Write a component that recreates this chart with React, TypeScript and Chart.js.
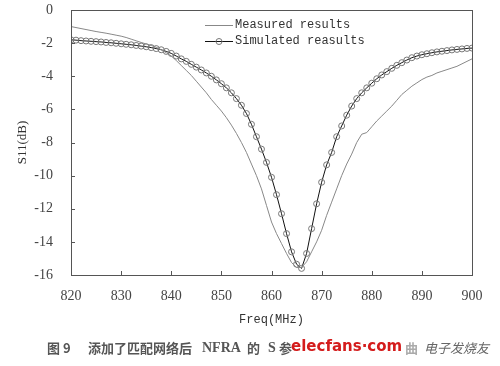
import React, { useEffect, useRef } from "react";
import { Chart, registerables } from "chart.js";

Chart.register(...registerables);

const freqs = [
  820, 821, 822, 823, 824, 825, 826, 827, 828, 829,
  830, 831, 832, 833, 834, 835, 836, 837, 838, 839,
  840, 841, 842, 843, 844, 845, 846, 847, 848, 849,
  850, 851, 852, 853, 854, 855, 856, 857, 858, 859,
  860, 861, 862, 863, 864, 865, 866, 867, 868, 869,
  870, 871, 872, 873, 874, 875, 876, 877, 878, 879,
  880, 881, 882, 883, 884, 885, 886, 887, 888, 889,
  890, 891, 892, 893, 894, 895, 896, 897, 898, 899, 900,
];

const measured = [
  -1.0, -1.06, -1.12, -1.18, -1.24, -1.3, -1.35, -1.4, -1.46, -1.52,
  -1.58, -1.66, -1.76, -1.86, -1.96, -2.05, -2.14, -2.25, -2.4, -2.58,
  -2.78, -3.05, -3.35, -3.65, -3.95, -4.3, -4.65, -5.0, -5.4, -5.75,
  -6.1, -6.5, -6.95, -7.45, -8.0, -8.6, -9.3, -10.0, -10.8, -11.8,
  -12.8, -13.5, -14.1, -14.7, -15.25, -15.55, -15.55, -15.2, -14.6, -14.0,
  -13.3, -12.4, -11.6, -10.8, -10.0, -9.3, -8.7, -8.0, -7.5, -7.4,
  -7.05, -6.7, -6.4, -6.1, -5.8, -5.45, -5.1, -4.85, -4.6, -4.4,
  -4.2, -4.05, -3.95, -3.8, -3.7, -3.6, -3.5, -3.4, -3.25, -3.1, -2.95,
];

const simulated = [
  -1.8, -1.82, -1.85, -1.87, -1.89, -1.91, -1.93, -1.96, -1.98, -2.01,
  -2.04, -2.07, -2.1, -2.14, -2.18, -2.22, -2.27, -2.33, -2.4, -2.5,
  -2.62, -2.78, -2.95, -3.1, -3.28, -3.45, -3.62, -3.8, -4.0, -4.22,
  -4.45, -4.7, -5.0, -5.35, -5.75, -6.25, -6.9, -7.65, -8.4, -9.2,
  -10.1, -11.15, -12.3, -13.5, -14.6, -15.35, -15.6, -14.7, -13.2, -11.7,
  -10.4, -9.35, -8.6, -7.65, -7.0, -6.35, -5.8, -5.35, -5.0, -4.7,
  -4.42, -4.15, -3.92, -3.72, -3.52, -3.34, -3.18, -3.02, -2.88, -2.78,
  -2.7, -2.64, -2.58, -2.53, -2.49, -2.45, -2.41, -2.38, -2.35, -2.32, -2.3,
];

const seriesNames = ["Measured results", "Simulated reasults"];
const xTitle = "Freq(MHz)";
const yTitle = "S11(dB)";

const frameAndLegend = {
  id: "frameAndLegend",
  afterDraw(chart: any) {
    const { ctx, chartArea } = chart;
    const { left, right, top, bottom } = chartArea;
    ctx.save();
    // frame
    ctx.strokeStyle = "#555";
    ctx.lineWidth = 1;
    ctx.strokeRect(Math.round(left) + 0.5, Math.round(top) + 0.5, Math.round(right - left), Math.round(bottom - top));
    // inside ticks
    const xs = chart.scales.x;
    const ys = chart.scales.y;
    ctx.beginPath();
    xs.ticks.forEach((t: any) => {
      const px = Math.round(xs.getPixelForValue(t.value)) + 0.5;
      ctx.moveTo(px, bottom);
      ctx.lineTo(px, bottom - 4);
    });
    ys.ticks.forEach((t: any) => {
      const py = Math.round(ys.getPixelForValue(t.value)) + 0.5;
      ctx.moveTo(left, py);
      ctx.lineTo(left + 4, py);
    });
    ctx.stroke();

    // legend
    const lx0 = left + 134;
    const lx1 = left + 162;
    const ly0 = top + 15;
    const ly1 = top + 31;
    ctx.lineWidth = 1;
    ctx.strokeStyle = "#888";
    ctx.beginPath();
    ctx.moveTo(lx0, ly0 + 0.5);
    ctx.lineTo(lx1, ly0 + 0.5);
    ctx.stroke();
    ctx.strokeStyle = "#111";
    ctx.beginPath();
    ctx.moveTo(lx0, ly1 + 0.5);
    ctx.lineTo(lx1, ly1 + 0.5);
    ctx.stroke();
    ctx.strokeStyle = "#777";
    ctx.beginPath();
    ctx.arc((lx0 + lx1) / 2, ly1 + 0.5, 3, 0, Math.PI * 2);
    ctx.stroke();
    ctx.fillStyle = "#333";
    ctx.font = "12px 'Liberation Mono'";
    ctx.textBaseline = "middle";
    ctx.textAlign = "left";
    ctx.fillText(seriesNames[0], lx1 + 2, ly0);
    ctx.fillText(seriesNames[1], lx1 + 2, ly1);

    // caption
    const cy = 348;
    ctx.fillStyle = "#555";
    ctx.font = "bold 13px 'Noto Sans CJK SC'";
    ctx.fillText("图 9", 47, cy);
    ctx.fillText("添加了匹配网络后", 88, cy);
    ctx.font = "bold 14px 'Liberation Serif'";
    ctx.fillText("NFRA", 202, cy);
    ctx.font = "bold 13px 'Noto Sans CJK SC'";
    ctx.fillText("的", 247, cy);
    ctx.font = "bold 14px 'Liberation Serif'";
    ctx.fillText("S", 268, cy);
    ctx.font = "bold 13px 'Noto Sans CJK SC'";
    ctx.fillText("参", 279, cy);
    ctx.fillStyle = "#aaa";
    ctx.fillText("曲", 405, cy);
    ctx.fillStyle = "#d41c1c";
    ctx.font = "bold 15px 'DejaVu Sans'";
    ctx.fillText("elecfans·com", 291, cy - 1);
    ctx.fillStyle = "#666";
    ctx.font = "italic 13px 'Noto Sans CJK SC'";
    ctx.fillText("电子发烧友", 424, cy);
    ctx.restore();
  },
};

export default function App() {
  const ref = useRef<HTMLCanvasElement | null>(null);

  useEffect(() => {
    document.body.style.margin = "0";
    const canvas = ref.current;
    if (!canvas) return;
    const chart = new Chart(canvas, {
      type: "line",
      data: {
        datasets: [
          {
            label: seriesNames[0],
            data: freqs.map((f, i) => ({ x: f, y: measured[i] })),
            borderColor: "#888",
            borderWidth: 1,
            pointRadius: 0,
            tension: 0,
            fill: false,
          },
          {
            label: seriesNames[1],
            data: freqs.map((f, i) => ({ x: f, y: simulated[i] })),
            borderColor: "#111",
            borderWidth: 1,
            pointRadius: 3,
            pointBorderWidth: 1,
            pointBorderColor: "#777",
            pointBackgroundColor: "rgba(255,255,255,0)",
            tension: 0,
            fill: false,
          },
        ],
      },
      options: {
        animation: false,
        responsive: true,
        maintainAspectRatio: false,
        layout: { padding: { left: 15, right: 28, top: 10, bottom: 39 } },
        plugins: { legend: { display: false }, tooltip: { enabled: false } },
        scales: {
          x: {
            type: "linear",
            min: 820,
            max: 900,
            ticks: {
              stepSize: 10,
              color: "#444",
              font: { family: "'Liberation Serif'", size: 14 },
              padding: 1,
              maxRotation: 0,
            },
            grid: { display: false, drawTicks: true, tickLength: 12 },
            border: { display: false },
            title: {
              display: true,
              text: xTitle,
              color: "#333",
              font: { family: "'Liberation Mono'", size: 12 },
              padding: 0,
            },
            afterFit: (s: any) => {
              s.height = 52;
            },
          },
          y: {
            min: -16,
            max: 0,
            ticks: {
              stepSize: 2,
              color: "#444",
              font: { family: "'Liberation Serif'", size: 14 },
              padding: 1,
            },
            grid: { display: false, drawTicks: true, tickLength: 17 },
            border: { display: false },
            title: {
              display: true,
              text: yTitle,
              color: "#333",
              font: { family: "'Liberation Serif'", size: 13 },
              padding: 0,
            },
            afterFit: (s: any) => {
              s.width = 56;
            },
          },
        },
      },
      plugins: [frameAndLegend],
    });
    return () => chart.destroy();
  }, []);

  return (
    <div style={{ width: 500, height: 366, position: "relative", background: "#fff" }}>
      <canvas ref={ref} />
    </div>
  );
}
